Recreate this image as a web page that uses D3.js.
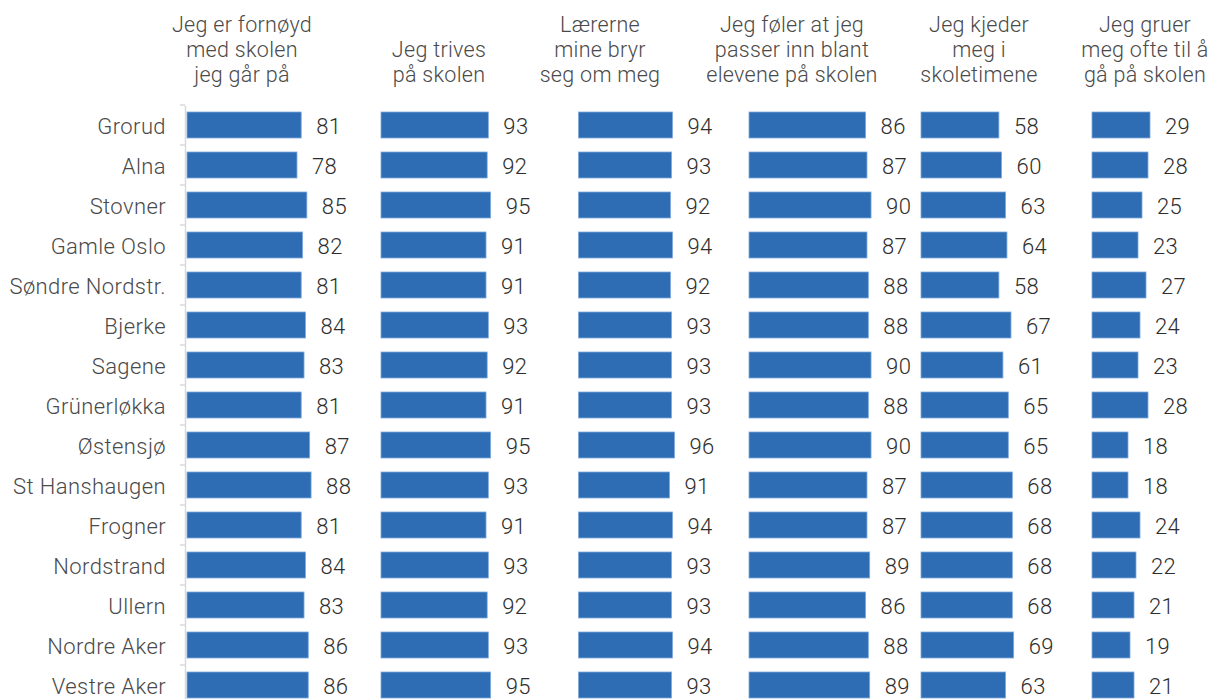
<!DOCTYPE html>
<html>
<head>
<meta charset="utf-8">
<script src="https://cdn.jsdelivr.net/npm/d3@7"></script>
<style>
  html, body { margin: 0; padding: 0; background: #fff; overflow: hidden; }
  svg { display: block; }
</style>
</head>
<body>
<script>
const categories = ["Grorud","Alna","Stovner","Gamle Oslo","Søndre Nordstr.","Bjerke","Sagene","Grünerløkka","Østensjø","St Hanshaugen","Frogner","Nordstrand","Ullern","Nordre Aker","Vestre Aker"];

const titles = [
  ["Jeg er fornøyd","med skolen","jeg går på"],
  ["Jeg trives","på skolen"],
  ["Lærerne","mine bryr","seg om meg"],
  ["Jeg føler at jeg","passer inn blant","elevene på skolen"],
  ["Jeg kjeder","meg i","skoletimene"],
  ["Jeg gruer","meg ofte til å","gå på skolen"]
];

const fornoyd   = [81,78,85,82,81,84,83,81,87,88,81,84,83,86,86];
const trives    = [93,92,95,91,91,93,92,91,95,93,91,93,92,93,95];
const laerere   = [94,93,92,94,92,93,93,93,96,91,94,93,93,94,93];
const passerInn = [86,87,90,87,88,88,90,88,90,87,87,89,86,88,89];
const kjeder    = [58,60,63,64,58,67,61,65,65,68,68,68,68,69,63];
const gruer     = [29,28,25,23,27,24,23,28,18,18,24,22,21,19,21];

const seriesValues = [fornoyd, trives, laerere, passerInn, kjeder, gruer];

// layout (pixel positions per panel)
const panels = [
  {x0: 187,   k: 1.41,  tc: 242},
  {x0: 381,   k: 1.154, tc: 439},
  {x0: 578.5, k: 1.0,   tc: 600},
  {x0: 749,   k: 1.356, tc: 792},
  {x0: 921,   k: 1.343, tc: 979},
  {x0: 1092,  k: 2.0,   tc: 1145}
];

const W = 1212, H = 699;
const FONT = "Roboto, 'Open Sans', sans-serif";
const svg = d3.select("body").append("svg").attr("width", W).attr("height", H);

const y = d3.scaleBand().domain(categories).range([105, 105 + 40 * categories.length])
  .paddingInner(0.35).paddingOuter(0.175);

// category axis on the left
const yAxis = d3.axisLeft(d3.scaleBand().domain(categories).range([105, 105 + 40 * categories.length]))
  .tickSize(0).tickFormat("");
const axG = svg.append("g").attr("transform", "translate(185,0)");
axG.call(yAxis);
axG.select(".domain").attr("stroke", "#d9d9d9").attr("stroke-width", 1.5);
// boundary tick marks
axG.selectAll(".bnd").data(d3.range(categories.length + 1)).enter().append("line")
  .attr("x1", -5).attr("x2", 0)
  .attr("y1", i => 105 + 40 * i).attr("y2", i => 105 + 40 * i)
  .attr("stroke", "#d9d9d9").attr("stroke-width", 1.5);

svg.append("g").selectAll("text").data(categories).enter().append("text")
  .attr("x", 166).attr("y", d => y(d) + y.bandwidth() / 2)
  .attr("dy", "0.41em").attr("text-anchor", "end")
  .attr("font-family", FONT).attr("font-size", 22).attr("font-weight", 300)
  .attr("letter-spacing", 0.4).attr("fill", "#4a4a4a")
  .text(d => d);

panels.forEach((p, pi) => {
  const x = d3.scaleLinear().domain([0, 100]).range([p.x0, p.x0 + 100 * p.k]);
  const vals = seriesValues[pi];
  const g = svg.append("g");
  g.selectAll("rect").data(vals).enter().append("rect")
    .attr("x", x(0)).attr("y", (d, i) => y(categories[i]))
    .attr("width", d => x(d) - x(0)).attr("height", y.bandwidth())
    .attr("fill", "#2e6db4").attr("stroke", "#7ea9dc").attr("stroke-width", 0.8);
  g.selectAll("text.val").data(vals).enter().append("text").attr("class", "val")
    .attr("x", d => x(d) + 15).attr("y", (d, i) => y(categories[i]) + y.bandwidth() / 2)
    .attr("dy", "0.41em")
    .attr("font-family", FONT).attr("font-size", 22).attr("font-weight", 300)
    .attr("letter-spacing", 0.4).attr("fill", "#2e2e2e")
    .text(d => d);
  const lines = titles[pi];
  const t = svg.append("text").attr("text-anchor", "middle")
    .attr("font-family", FONT).attr("font-size", 21.5).attr("font-weight", 300)
    .attr("letter-spacing", 0.3).attr("fill", "#4a4a4a");
  lines.forEach((ln, li) => {
    t.append("tspan").attr("x", p.tc).attr("y", 82 - 25 * (lines.length - 1 - li)).text(ln);
  });
});
</script>
</body>
</html>
